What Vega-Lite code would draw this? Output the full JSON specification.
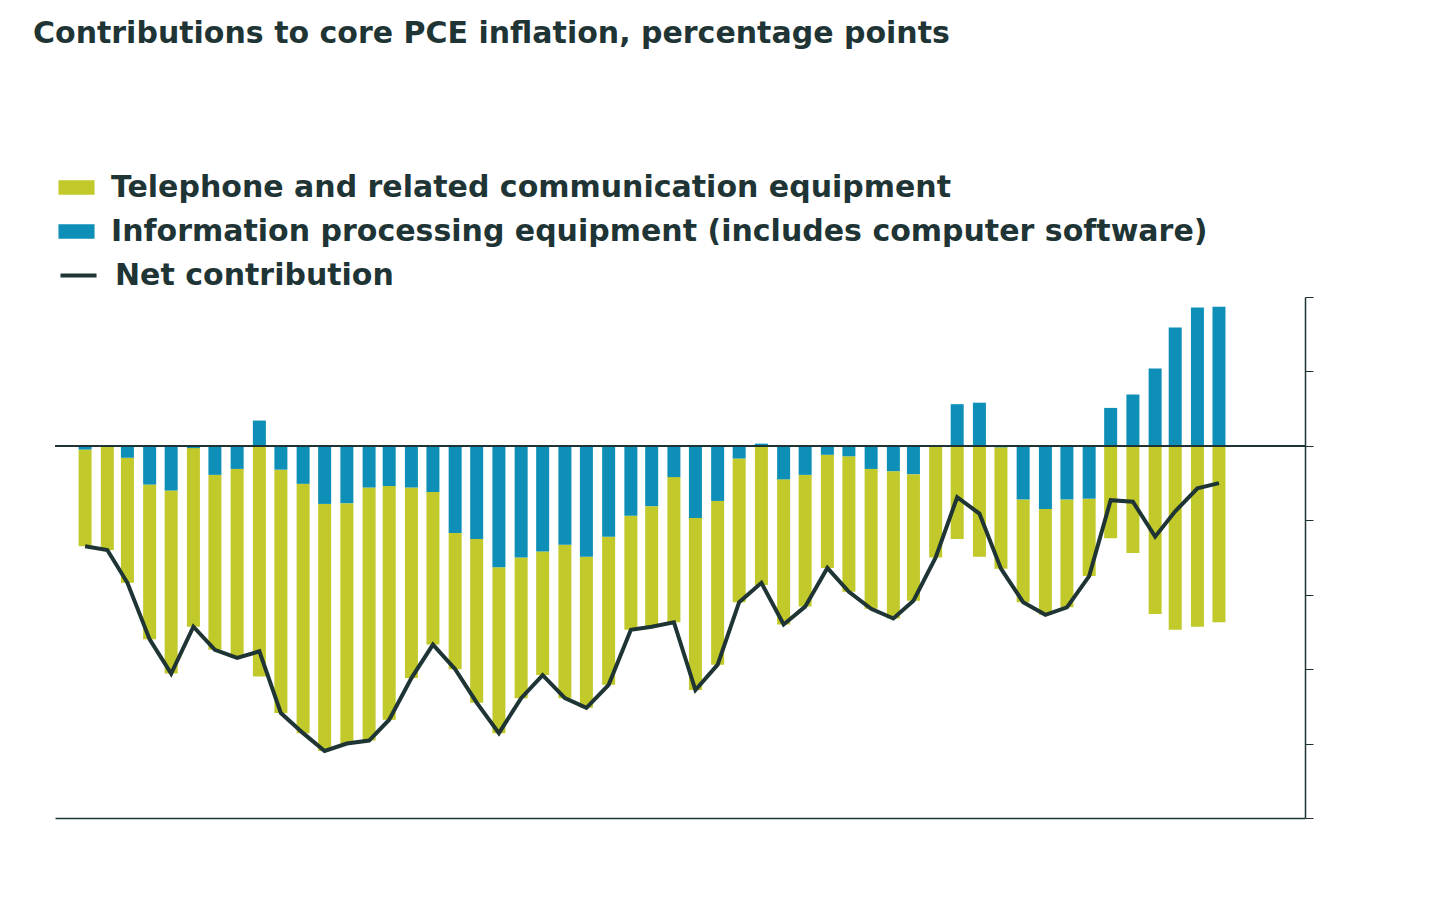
{
  "$schema": "https://vega.github.io/schema/vega-lite/v6.json",
  "width": 1250,
  "height": 521,
  "padding": {"left": 55, "top": 297, "right": 10, "bottom": 10},
  "autosize": {"type": "none"},
  "background": "#ffffff",
  "view": {"stroke": null},
  "config": {"font": "DejaVu Sans"},
  "title": {
    "text": "34. AI ALSO IS BOOSTING INFLATION FOR TECH GOODS AND SERVICES",
    "subtitle": "Contributions to core PCE inflation, percentage points",
    "anchor": "start",
    "frame": "group",
    "dx": -22,
    "fontSize": 28,
    "fontWeight": 700,
    "color": "#1c9ac3",
    "subtitleFontSize": 30,
    "subtitleFontWeight": 600,
    "subtitleColor": "#1f3535",
    "subtitlePadding": 74,
    "offset": 18
  },
  "datasets": {
    "pce": [
      {"date": "2022-01-01", "Telephone and related communication equipment": -0.130, "Information processing equipment (includes computer software)": -0.005, "net": -0.135},
      {"date": "2022-02-01", "Telephone and related communication equipment": -0.140, "Information processing equipment (includes computer software)": 0.000, "net": -0.140},
      {"date": "2022-03-01", "Telephone and related communication equipment": -0.168, "Information processing equipment (includes computer software)": -0.016, "net": -0.184},
      {"date": "2022-04-01", "Telephone and related communication equipment": -0.208, "Information processing equipment (includes computer software)": -0.052, "net": -0.260},
      {"date": "2022-05-01", "Telephone and related communication equipment": -0.246, "Information processing equipment (includes computer software)": -0.060, "net": -0.306},
      {"date": "2022-06-01", "Telephone and related communication equipment": -0.240, "Information processing equipment (includes computer software)": -0.003, "net": -0.243},
      {"date": "2022-07-01", "Telephone and related communication equipment": -0.235, "Information processing equipment (includes computer software)": -0.039, "net": -0.274},
      {"date": "2022-08-01", "Telephone and related communication equipment": -0.254, "Information processing equipment (includes computer software)": -0.031, "net": -0.285},
      {"date": "2022-09-01", "Telephone and related communication equipment": -0.310, "Information processing equipment (includes computer software)": 0.034, "net": -0.276},
      {"date": "2022-10-01", "Telephone and related communication equipment": -0.327, "Information processing equipment (includes computer software)": -0.032, "net": -0.359},
      {"date": "2022-11-01", "Telephone and related communication equipment": -0.335, "Information processing equipment (includes computer software)": -0.051, "net": -0.386},
      {"date": "2022-12-01", "Telephone and related communication equipment": -0.332, "Information processing equipment (includes computer software)": -0.078, "net": -0.410},
      {"date": "2023-01-01", "Telephone and related communication equipment": -0.323, "Information processing equipment (includes computer software)": -0.077, "net": -0.400},
      {"date": "2023-02-01", "Telephone and related communication equipment": -0.340, "Information processing equipment (includes computer software)": -0.056, "net": -0.396},
      {"date": "2023-03-01", "Telephone and related communication equipment": -0.314, "Information processing equipment (includes computer software)": -0.054, "net": -0.368},
      {"date": "2023-04-01", "Telephone and related communication equipment": -0.256, "Information processing equipment (includes computer software)": -0.056, "net": -0.312},
      {"date": "2023-05-01", "Telephone and related communication equipment": -0.205, "Information processing equipment (includes computer software)": -0.062, "net": -0.267},
      {"date": "2023-06-01", "Telephone and related communication equipment": -0.183, "Information processing equipment (includes computer software)": -0.117, "net": -0.300},
      {"date": "2023-07-01", "Telephone and related communication equipment": -0.220, "Information processing equipment (includes computer software)": -0.125, "net": -0.345},
      {"date": "2023-08-01", "Telephone and related communication equipment": -0.223, "Information processing equipment (includes computer software)": -0.163, "net": -0.386},
      {"date": "2023-09-01", "Telephone and related communication equipment": -0.189, "Information processing equipment (includes computer software)": -0.150, "net": -0.339},
      {"date": "2023-10-01", "Telephone and related communication equipment": -0.166, "Information processing equipment (includes computer software)": -0.142, "net": -0.308},
      {"date": "2023-11-01", "Telephone and related communication equipment": -0.206, "Information processing equipment (includes computer software)": -0.133, "net": -0.339},
      {"date": "2023-12-01", "Telephone and related communication equipment": -0.203, "Information processing equipment (includes computer software)": -0.149, "net": -0.352},
      {"date": "2024-01-01", "Telephone and related communication equipment": -0.199, "Information processing equipment (includes computer software)": -0.122, "net": -0.321},
      {"date": "2024-02-01", "Telephone and related communication equipment": -0.153, "Information processing equipment (includes computer software)": -0.094, "net": -0.247},
      {"date": "2024-03-01", "Telephone and related communication equipment": -0.162, "Information processing equipment (includes computer software)": -0.081, "net": -0.243},
      {"date": "2024-04-01", "Telephone and related communication equipment": -0.195, "Information processing equipment (includes computer software)": -0.042, "net": -0.237},
      {"date": "2024-05-01", "Telephone and related communication equipment": -0.231, "Information processing equipment (includes computer software)": -0.097, "net": -0.328},
      {"date": "2024-06-01", "Telephone and related communication equipment": -0.220, "Information processing equipment (includes computer software)": -0.074, "net": -0.294},
      {"date": "2024-07-01", "Telephone and related communication equipment": -0.193, "Information processing equipment (includes computer software)": -0.017, "net": -0.210},
      {"date": "2024-08-01", "Telephone and related communication equipment": -0.187, "Information processing equipment (includes computer software)": 0.003, "net": -0.184},
      {"date": "2024-09-01", "Telephone and related communication equipment": -0.195, "Information processing equipment (includes computer software)": -0.045, "net": -0.240},
      {"date": "2024-10-01", "Telephone and related communication equipment": -0.177, "Information processing equipment (includes computer software)": -0.039, "net": -0.216},
      {"date": "2024-11-01", "Telephone and related communication equipment": -0.152, "Information processing equipment (includes computer software)": -0.012, "net": -0.164},
      {"date": "2024-12-01", "Telephone and related communication equipment": -0.182, "Information processing equipment (includes computer software)": -0.014, "net": -0.196},
      {"date": "2025-01-01", "Telephone and related communication equipment": -0.188, "Information processing equipment (includes computer software)": -0.031, "net": -0.219},
      {"date": "2025-02-01", "Telephone and related communication equipment": -0.198, "Information processing equipment (includes computer software)": -0.034, "net": -0.232},
      {"date": "2025-03-01", "Telephone and related communication equipment": -0.170, "Information processing equipment (includes computer software)": -0.038, "net": -0.208},
      {"date": "2025-04-01", "Telephone and related communication equipment": -0.150, "Information processing equipment (includes computer software)": 0.000, "net": -0.150},
      {"date": "2025-05-01", "Telephone and related communication equipment": -0.125, "Information processing equipment (includes computer software)": 0.056, "net": -0.069},
      {"date": "2025-06-01", "Telephone and related communication equipment": -0.149, "Information processing equipment (includes computer software)": 0.058, "net": -0.091},
      {"date": "2025-07-01", "Telephone and related communication equipment": -0.163, "Information processing equipment (includes computer software)": -0.002, "net": -0.165},
      {"date": "2025-08-01", "Telephone and related communication equipment": -0.138, "Information processing equipment (includes computer software)": -0.072, "net": -0.210},
      {"date": "2025-09-01", "Telephone and related communication equipment": -0.142, "Information processing equipment (includes computer software)": -0.085, "net": -0.227},
      {"date": "2025-10-01", "Telephone and related communication equipment": -0.145, "Information processing equipment (includes computer software)": -0.072, "net": -0.217},
      {"date": "2025-11-01", "Telephone and related communication equipment": -0.104, "Information processing equipment (includes computer software)": -0.071, "net": -0.175},
      {"date": "2025-12-01", "Telephone and related communication equipment": -0.124, "Information processing equipment (includes computer software)": 0.051, "net": -0.073},
      {"date": "2026-01-01", "Telephone and related communication equipment": -0.144, "Information processing equipment (includes computer software)": 0.069, "net": -0.075},
      {"date": "2026-02-01", "Telephone and related communication equipment": -0.226, "Information processing equipment (includes computer software)": 0.104, "net": -0.122},
      {"date": "2026-03-01", "Telephone and related communication equipment": -0.247, "Information processing equipment (includes computer software)": 0.159, "net": -0.088},
      {"date": "2026-04-01", "Telephone and related communication equipment": -0.243, "Information processing equipment (includes computer software)": 0.186, "net": -0.057},
      {"date": "2026-05-01", "Telephone and related communication equipment": -0.237, "Information processing equipment (includes computer software)": 0.187, "net": -0.050}
    ]
  },
  "data": {"name": "pce"},
  "encoding": {
    "x": {
      "field": "date",
      "type": "temporal",
      "scale": {"domain": ["2021-11-27", "2026-08-22"]},
      "axis": {
        "title": null,
        "format": "%y",
        "tickCount": {"interval": "year", "step": 1},
        "grid": false,
        "ticks": false,
        "domainColor": "#1f3535",
        "domainWidth": 1.5,
        "labelFontSize": 30,
        "labelFontWeight": 700,
        "labelColor": "#1f3535",
        "labelPadding": 18
      }
    }
  },
  "layer": [
    {
      "transform": [
        {"fold": ["Telephone and related communication equipment", "Information processing equipment (includes computer software)"], "as": ["series", "value"]}
      ],
      "mark": {"type": "bar", "size": 13},
      "encoding": {
        "y": {
          "field": "value",
          "type": "quantitative",
          "stack": "zero",
          "scale": {"domain": [-0.5, 0.2], "nice": false},
          "axis": {
            "title": null,
            "orient": "right",
            "values": [-0.5, -0.4, -0.3, -0.2, -0.1, 0, 0.1, 0.2],
            "format": ".1f",
            "grid": false,
            "domainColor": "#1f3535",
            "domainWidth": 1.5,
            "tickColor": "#1f3535",
            "tickSize": 8,
            "labelFontSize": 30,
            "labelFontWeight": 700,
            "labelColor": "#1f3535",
            "labelPadding": 18
          }
        },
        "color": {
          "field": "series",
          "type": "nominal",
          "scale": {
            "domain": ["Telephone and related communication equipment", "Information processing equipment (includes computer software)"],
            "range": ["#c2c92a", "#0d8fb8"]
          },
          "legend": {
            "title": null,
            "orient": "none",
            "legendX": 3,
            "legendY": -128,
            "symbolType": "M-1,-0.4H1V0.4H-1Z",
            "symbolSize": 1300,
            "symbolStrokeWidth": 0,
            "labelFontSize": 30,
            "labelFontWeight": 600,
            "labelColor": "#1f3535",
            "labelOffset": 16,
            "labelLimit": 1300,
            "rowPadding": 10
          }
        },
        "order": {"field": "series", "sort": "ascending"}
      }
    },
    {
      "mark": {"type": "rule", "color": "#1f3535", "strokeWidth": 1.5},
      "encoding": {"y": {"datum": 0}, "x": null}
    },
    {
      "mark": {"type": "rule", "color": "#93b9bc", "strokeWidth": 3, "clip": false},
      "encoding": {
        "y": {"datum": 0.2},
        "yOffset": {"value": -229},
        "x": {"datum": "2021-10-27", "type": "temporal"},
        "x2": {"datum": "2027-01-10"}
      }
    },
    {
      "mark": {"type": "line", "strokeWidth": 4},
      "encoding": {
        "y": {"field": "net", "type": "quantitative"},
        "stroke": {
          "datum": "Net contribution",
          "scale": {"range": ["#1f3535"]},
          "legend": {
            "title": null,
            "orient": "none",
            "legendX": 3,
            "legendY": -42,
            "symbolType": "stroke",
            "symbolSize": 1300,
            "symbolStrokeWidth": 4,
            "labelFontSize": 30,
            "labelFontWeight": 600,
            "labelColor": "#1f3535",
            "labelOffset": 16,
            "labelLimit": 1300
          }
        }
      }
    }
  ]
}
